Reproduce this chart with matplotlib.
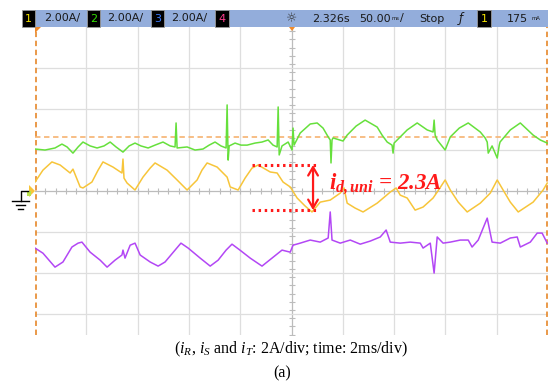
import matplotlib
matplotlib.use("Agg")
import matplotlib.pyplot as plt
from matplotlib.patches import Rectangle, Polygon

plt.rcParams['mathtext.fontset'] = 'custom'
plt.rcParams['mathtext.rm'] = 'Liberation Serif'
plt.rcParams['mathtext.it'] = 'Liberation Serif:italic'
plt.rcParams['mathtext.bf'] = 'Liberation Serif:italic:bold'

W, H = 548, 383

# time in ms (2 ms/div), displayed current in A (2 A/div)
green_t = [0, 0.39, 0.78, 1.05, 1.25, 1.48, 1.68, 1.87, 2.15, 2.42,
           2.69, 2.93, 3.16, 3.43, 3.67, 3.90, 4.13, 4.41, 4.68, 4.99,
           5.27, 5.46, 5.50, 5.54, 5.93, 6.24, 6.55, 6.79, 7.02, 7.25,
           7.45, 7.49, 7.53, 7.57, 7.80, 8.03, 8.27, 8.58, 8.85, 9.09,
           9.28, 9.44, 9.48, 9.52, 9.63, 9.87, 10.02,
           10.06, 10.10, 10.34, 10.73, 11.00, 11.23, 11.43, 11.51, 11.54, 11.58,
           11.62, 12.01, 12.17, 12.52, 12.87, 13.34, 13.53, 13.73, 13.92, 13.96,
           14.00, 14.12, 14.51, 14.90, 15.29, 15.52, 15.56, 15.60, 15.68, 15.99,
           16.19, 16.54, 16.89, 17.36, 17.55, 17.63, 17.67, 17.82, 18.02, 18.10,
           18.13, 18.53, 18.92, 19.42, 19.70, 19.97]
green_v = [2.05, 2.00, 2.10, 2.29, 2.15, 1.85, 2.15, 2.39, 2.20, 2.10,
           2.20, 2.39, 2.15, 1.90, 2.20, 2.34, 2.20, 2.10, 2.24, 2.39,
           2.20, 2.15, 3.32, 2.10, 2.15, 2.00, 2.05, 2.24, 2.39, 2.20,
           2.10, 4.20, 1.51, 2.20, 2.34, 2.24, 2.24, 2.34, 2.39, 2.49,
           2.24, 2.15, 4.10, 1.76, 2.20, 2.39, 2.00,
           3.07, 2.24, 2.83, 3.27, 3.32, 3.07, 2.64, 2.49, 1.37, 2.49,
           2.59, 2.44, 2.73, 3.17, 3.46, 3.12, 2.73, 2.39, 2.24, 1.85,
           2.34, 2.49, 2.98, 3.32, 2.98, 2.88, 3.46, 2.73, 2.49, 2.00,
           2.64, 3.07, 3.32, 2.88, 2.59, 2.39, 1.85, 2.20, 1.61, 2.24,
           2.39, 2.98, 3.32, 2.73, 2.49, 2.34]

yellow_t = [0, 0.31, 0.66, 0.98, 1.37, 1.48, 1.76, 1.87, 2.22, 2.46,
            2.65, 3.04, 3.39, 3.43, 3.47, 3.59, 3.90, 4.21, 4.49, 4.68,
            5.15, 5.54, 5.93, 6.32, 6.51, 6.71, 7.10, 7.49, 7.61, 7.92,
            8.19, 8.46, 8.70, 9.17, 9.44, 9.67, 9.95, 10.22, 10.53, 10.80,
            11.12, 11.51, 11.90, 12.05, 12.17, 12.48, 12.79, 13.34, 13.85, 14.08,
            14.24, 14.51, 14.82, 15.13, 15.52, 15.68, 15.99, 16.19, 16.50, 16.85,
            17.36, 17.75, 18.02, 18.25, 18.53, 18.84, 19.42, 19.81, 19.97]
yellow_v = [0.44, 1.02, 1.42, 1.27, 0.88, 1.07, 0.20, 0.15, 0.44, 1.02,
            1.42, 1.17, 0.88, 1.56, 0.63, 0.39, 0.05, 0.68, 1.12, 1.37,
            1.02, 0.54, 0.05, 0.54, 1.02, 1.37, 1.17, 0.68, 0.20, 0.05,
            0.63, 1.12, 1.27, 0.93, 0.88, 0.44, 0.20, -0.34, -0.73, -1.02,
            -0.54, -0.44, -0.10, 0.15, -0.59, -0.83, -1.02, -0.59, -0.05, 0.15,
            -0.20, -0.34, -0.93, -0.78, -0.34, -0.05, 0.54, 0.05, -0.54, -1.02,
            -0.59, -0.10, 0.54, 0.05, -0.54, -1.02, -0.54, 0.05, 0.39]

purple_t = [0, 0.31, 0.78, 1.09, 1.44, 1.68, 1.83, 2.15, 2.54, 2.81,
            3.12, 3.39, 3.43, 3.51, 3.71, 3.90, 4.10, 4.49, 4.80, 5.07,
            5.46, 5.69, 5.97, 6.44, 6.83, 7.14, 7.45, 7.68, 7.99, 8.39,
            8.85, 9.24, 9.63, 9.95, 10.06,
            10.34, 10.73, 11.12, 11.43, 11.51, 11.58, 11.90, 12.29, 12.68, 13.07,
            13.46, 13.69, 13.85, 14.24, 14.63, 15.02, 15.13, 15.41, 15.56, 15.68,
            15.91, 16.19, 16.58, 16.89, 17.04, 17.28, 17.63, 17.82, 18.14, 18.53,
            18.80, 18.92, 19.31, 19.58, 19.77, 19.97]
purple_v = [-2.78, -3.03, -3.71, -3.46, -2.73, -2.54, -2.49, -2.98, -3.37, -3.71,
            -3.37, -3.12, -2.88, -3.27, -2.64, -2.54, -3.12, -3.46, -3.66, -3.46,
            -2.88, -2.54, -2.78, -3.27, -3.66, -3.37, -2.88, -2.59, -2.88, -3.27,
            -3.66, -3.27, -2.88, -2.98, -2.64,
            -2.54, -2.39, -2.49, -2.29, -1.02, -2.39, -2.54, -2.39, -2.59, -2.44,
            -2.24, -1.90, -2.49, -2.54, -2.49, -2.54, -2.78, -2.54, -4.00, -2.24,
            -2.54, -2.49, -2.39, -2.39, -2.73, -2.39, -1.32, -2.49, -2.54, -2.29,
            -2.24, -2.73, -2.49, -2.05, -2.05, -2.54]

trig_level = 2.64
band_top, band_bot = 1.27, -0.93
band_t0, band_t1, arrow_t = 8.46, 11.04, 10.84

fig = plt.figure(figsize=(W / 100, H / 100), dpi=100)
ax = fig.add_axes([35 / W, 48 / H, 513 / W, 308 / H])
ax.set_xlim(0, 20)
ax.set_ylim(-7.02, 8)
ax.axis('off')

# screen graticule
for t in range(2, 20, 2):
    ax.axvline(t, color='#bcbcbc' if t == 10 else '#dedede', lw=0.9, zorder=1)
for v in [-6, -4, -2, 0, 2, 4, 6]:
    ax.axhline(v, color='#bcbcbc' if v == 0 else '#dedede', lw=0.9, zorder=1)
minor_t = [i * 0.4 for i in range(1, 50)]
minor_v = [-7 + i * 0.4 for i in range(0, 38)]
ax.plot(minor_t, [0] * len(minor_t), ls='none', marker='|', ms=4, mew=0.8, color='#bcbcbc', zorder=1)
ax.plot([10] * len(minor_v), minor_v, ls='none', marker='_', ms=4, mew=0.8, color='#bcbcbc', zorder=1)

ax.axhline(trig_level, color='#f7b97c', lw=1.3, ls=(0, (3, 2)), zorder=2)
ax.axvline(0.03, color='#e8913a', lw=1.3, ls=(0, (3, 2)), zorder=2)
ax.axvline(19.97, color='#e8913a', lw=1.3, ls=(0, (3, 2)), zorder=2)

ax.plot(green_t, green_v, color='#66e03c', lw=1.1, zorder=3)
ax.plot(yellow_t, yellow_v, color='#f7c53a', lw=1.1, zorder=3)
ax.plot(purple_t, purple_v, color='#b347f5', lw=1.1, zorder=3)

# annotation
ax.plot([band_t0, band_t1], [band_top, band_top], color='#ff1a1a', lw=2.2, ls=(0, (0.8, 1.2)), zorder=4)
ax.plot([band_t0, band_t1], [band_bot, band_bot], color='#ff1a1a', lw=2.2, ls=(0, (0.8, 1.2)), zorder=4)
ax.annotate('', xy=(arrow_t, band_bot), xytext=(arrow_t, band_top),
            arrowprops=dict(arrowstyle='<->,head_length=0.6,head_width=0.35', color='#ff1a1a', lw=1.6,
                            shrinkA=0, shrinkB=0), zorder=4)
ax.text(11.45, 0.1, r'$\mathbf{i}_{\mathbf{d,uni}}$ = 2.3A', color='#ff1a1a', fontsize=16.5,
        family='Liberation Serif', weight='bold', style='italic', va='baseline', ha='left', zorder=5)

# top status bar
fig.patches.append(Rectangle((24 / W, 1 - 27 / H), (W - 24) / W, 17 / H, transform=fig.transFigure,
                             fc='#93addb', ec='none', zorder=0))
by = 1 - 18.5 / H
box = dict(boxstyle='square,pad=0.3', fc='black', ec='#9a9a9a', lw=0.6)
for x, lab, col in [(28.5, '1', '#f2e200'), (93.5, '2', '#33e000'), (157.5, '3', '#3c7cff'), (222, '4', '#ff3c8c')]:
    fig.text(x / W, by, lab, color=col, fontsize=8, ha='center', va='center', bbox=box)
for x in [44, 107, 171]:
    fig.text(x / W, by, '2.00A/', color='#1a1a1a', fontsize=8, ha='left', va='center')
fig.text(292 / W, by, '☼', color='#333333', fontsize=9, ha='center', va='center')
fig.text(312 / W, by, '2.326s', color='#1a1a1a', fontsize=8, ha='left', va='center')
fig.text(359 / W, by, '50.00', color='#1a1a1a', fontsize=8, ha='left', va='center')
fig.text(392 / W, by, 'ms', color='#1a1a1a', fontsize=3.8, ha='left', va='center')
fig.text(400 / W, by, '/', color='#1a1a1a', fontsize=8, ha='left', va='center')
fig.text(419 / W, by, 'Stop', color='#1a1a1a', fontsize=8, ha='left', va='center')
fig.text(461 / W, by, 'ƒ', color='#1a1a1a', fontsize=8.5, ha='center', va='center', style='italic')
fig.text(484 / W, by, '1', color='#f2e200', fontsize=8, ha='center', va='center', bbox=box)
fig.text(507 / W, by, '175', color='#1a1a1a', fontsize=8, ha='left', va='center')
fig.text(531 / W, by, 'mA', color='#1a1a1a', fontsize=3.8, ha='left', va='center')

# trigger markers
fig.patches.append(Polygon([(35 / W, 1 - 27 / H), (41 / W, 1 - 27 / H), (35 / W, 1 - 33 / H)],
                           transform=fig.transFigure, fc='#f08a2a', ec='none'))
fig.patches.append(Polygon([(289 / W, 1 - 27 / H), (295 / W, 1 - 27 / H), (292 / W, 1 - 31 / H)],
                           transform=fig.transFigure, fc='#f08a2a', ec='none'))

# ground reference symbol and channel markers on the left
gy = 1 - 191 / H
fig.lines.append(plt.Line2D([28 / W, 21 / W, 21 / W], [gy, gy, 1 - 201 / H], transform=fig.transFigure,
                            color='black', lw=1))
for y, x0, x1 in [(201, 12, 29), (205, 16, 25), (209, 18, 23)]:
    fig.lines.append(plt.Line2D([x0 / W, x1 / W], [1 - y / H, 1 - y / H], transform=fig.transFigure,
                                color='black', lw=1))
fig.patches.append(Polygon([(29 / W, 1 - 185 / H), (35 / W, gy), (29 / W, 1 - 197 / H)],
                           transform=fig.transFigure, fc='#f7c53a', ec='none'))
fig.patches.append(Rectangle((27 / W, 1 - 196 / H), 4 / W, 5 / H, transform=fig.transFigure,
                             fc='#b9e34a', ec='none'))

# caption
fig.text(291 / W, 1 - 353 / H, r'($i_R$, $i_S$ and $i_T$: 2A/div; time: 2ms/div)', family='Liberation Serif',
         fontsize=11.5, ha='center', va='baseline', color='black')
fig.text(282 / W, 1 - 377 / H, '(a)', family='Liberation Serif', fontsize=11.5, ha='center',
         va='baseline', color='black')

fig.savefig('out.png', dpi=100)
